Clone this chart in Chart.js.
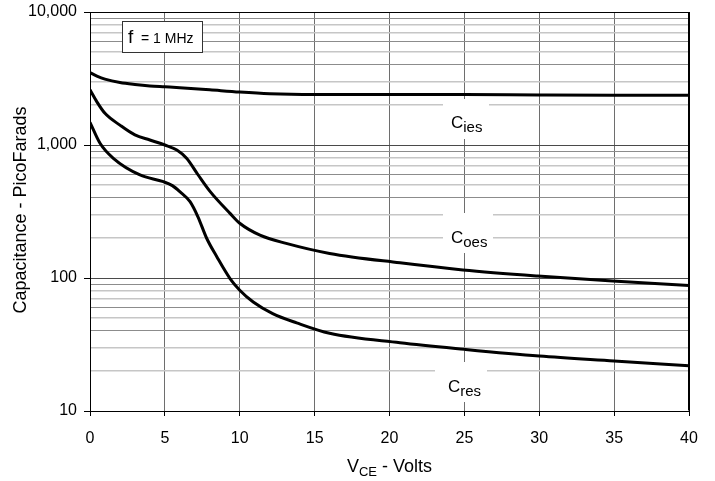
<!DOCTYPE html>
<html>
<head>
<meta charset="utf-8">
<script src="https://cdn.jsdelivr.net/npm/chart.js@4.4.0/dist/chart.umd.min.js"></script>
<style>
html,body{margin:0;padding:0;background:#fff;}
#wrap{width:715px;height:481px;}
</style>
</head>
<body>
<div id="wrap"><canvas id="c" width="715" height="481"></canvas></div>
<script>
// ---- data ----
const vIes = [0, 0.5, 1, 2, 3, 4, 5, 6, 8, 10, 12, 15, 20, 25, 30, 35, 40];
const cIes = [3500, 3280, 3130, 2950, 2850, 2780, 2740, 2700, 2600, 2500, 2430, 2400, 2400, 2400, 2380, 2370, 2370];

const vOes = [0, 0.45, 1, 2, 3, 4, 5, 5.8, 6.45, 7.2, 8, 9.35, 10, 11.35, 13.1, 16, 20.7, 24.9, 29.9, 34.9, 40];
const cOes = [2600, 2120, 1730, 1410, 1190, 1090, 1000, 916, 794, 600, 450, 306, 258, 210, 182, 153, 130, 115, 103.5, 95, 88];

const vRes = [0, 0.67, 1.56, 3.34, 4.9, 5.5, 6, 6.68, 7.2, 7.79, 8.46, 9.35, 10, 10.9, 12.2, 13.8, 16, 20.7, 25, 30, 35, 40];
const cRes = [1480, 1030, 794, 595, 530, 495, 446, 375, 290, 199, 145, 99, 81, 66, 54, 46, 38.4, 32.6, 29.1, 25.9, 23.8, 21.9];

const xTicks = [0, 5, 10, 15, 20, 25, 30, 35, 40];
const yMajor = [10, 100, 1000, 10000];
const yLabels = ['10', '100', '1,000', '10,000'];
const seriesNames = ['ies', 'oes', 'res'];

const yTicks = [];
[10, 100, 1000].forEach(d => { for (let m = 1; m <= 9; m++) yTicks.push(d * m); });
yTicks.push(10000);

const FONT = '"Liberation Sans", Arial, Helvetica, sans-serif';

function pts(xs, ys) { return xs.map((x, i) => ({x: x, y: ys[i]})); }
function mant(v) { return Math.round(v / Math.pow(10, Math.floor(Math.log10(v) + 1e-9))); }

const ds = (d) => ({
  data: d, borderColor: '#000', borderWidth: 3, pointRadius: 0, showLine: true,
  fill: false, cubicInterpolationMode: 'monotone', tension: 0.4
});

const deco = {
  id: 'deco',
  beforeDatasetsDraw(chart) {
    const ctx = chart.ctx;
    ctx.save();
    const boxes = [
      {x: 443, y: 99, w: 46, h: 40, tx: 451, ty: 128, sub: seriesNames[0]},
      {x: 443, y: 213, w: 50, h: 40, tx: 451, ty: 243, sub: seriesNames[1]},
      {x: 435, y: 362, w: 52, h: 40, tx: 448, ty: 392, sub: seriesNames[2]}
    ];
    boxes.forEach(b => {
      ctx.fillStyle = '#fff';
      ctx.fillRect(b.x, b.y, b.w, b.h);
      ctx.fillStyle = '#000';
      ctx.textBaseline = 'alphabetic';
      ctx.textAlign = 'left';
      ctx.font = '17px ' + FONT;
      ctx.fillText('C', b.tx, b.ty);
      const cw = ctx.measureText('C').width;
      ctx.font = '15px ' + FONT;
      ctx.fillText(b.sub, b.tx + cw, b.ty + 4);
    });
    ctx.fillStyle = '#fff';
    ctx.fillRect(122.5, 21.5, 80, 31);
    ctx.strokeStyle = '#333';
    ctx.lineWidth = 1;
    ctx.strokeRect(122.5, 21.5, 80, 31);
    ctx.fillStyle = '#000';
    ctx.font = '19px ' + FONT;
    ctx.fillText('f', 128, 43);
    ctx.font = '14px ' + FONT;
    ctx.fillText('= 1 MHz', 141, 43);
    ctx.restore();
  },
  afterDraw(chart) {
    const ctx = chart.ctx;
    const a = chart.chartArea;
    ctx.save();
    ctx.strokeStyle = '#000';
    ctx.lineWidth = 1;
    ctx.beginPath();
    ctx.moveTo(Math.round(a.left) + 0.5, Math.round(a.top) + 0.5);
    ctx.lineTo(Math.round(a.right) - 0.5, Math.round(a.top) + 0.5);
    ctx.lineTo(Math.round(a.right) - 0.5, Math.round(a.bottom) - 0.5);
    ctx.stroke();
    ctx.fillStyle = '#000';
    ctx.font = '18px ' + FONT;
    ctx.textAlign = 'center';
    ctx.textBaseline = 'middle';
    ctx.translate(21, 210);
    ctx.rotate(-Math.PI / 2);
    ctx.fillText('Capacitance - PicoFarads', 0, 0);
    ctx.setTransform(1, 0, 0, 1, 0, 0);
    ctx.textAlign = 'left';
    ctx.textBaseline = 'alphabetic';
    ctx.font = '18px ' + FONT;
    const w1 = ctx.measureText('V').width;
    const w3 = ctx.measureText(' - Volts').width;
    ctx.font = '13px ' + FONT;
    const w2 = ctx.measureText('CE').width;
    const total = w1 + w2 + w3;
    let x0 = (a.left + a.right) / 2 - total / 2;
    ctx.font = '18px ' + FONT;
    ctx.fillText('V', x0, 472);
    ctx.font = '13px ' + FONT;
    ctx.fillText('CE', x0 + w1, 476);
    ctx.font = '18px ' + FONT;
    ctx.fillText(' - Volts', x0 + w1 + w2, 472);
    ctx.restore();
  }
};

new Chart(document.getElementById('c'), {
  type: 'scatter',
  data: { datasets: [ds(pts(vIes, cIes)), ds(pts(vOes, cOes)), ds(pts(vRes, cRes))] },
  options: {
    responsive: false,
    animation: false,
    devicePixelRatio: 1,
    layout: { padding: { left: 0, top: 12, right: 26, bottom: 0 } },
    plugins: { legend: { display: false }, tooltip: { enabled: false } },
    scales: {
      x: {
        type: 'linear', min: 0, max: 40,
        afterFit(s) { s.height = 70; s.paddingLeft = 0; s.paddingRight = 0; },
        afterBuildTicks(s) { s.ticks = xTicks.map(v => ({value: v})); },
        ticks: { color: '#000', font: { size: 16, family: FONT }, padding: 13, maxRotation: 0, autoSkip: false },
        grid: {
          color: (c) => (c.tick && (c.tick.value === 0 || c.tick.value === 40)) ? '#000' : '#6e6e6e',
          lineWidth: 1, tickLength: 5, tickColor: '#000'
        },
        border: { color: '#000', width: 1 }
      },
      y: {
        type: 'logarithmic', min: 10, max: 10000,
        afterFit(s) { s.width = 90; s.paddingTop = 0; s.paddingBottom = 0; },
        afterBuildTicks(s) { s.ticks = yTicks.map(v => ({value: v})); },
        ticks: {
          color: '#000', font: { size: 16, family: FONT }, padding: 7, autoSkip: false,
          callback: (v) => { const i = yMajor.indexOf(v); return i >= 0 ? yLabels[i] : ''; }
        },
        grid: {
          color: (c) => {
            const v = c.tick ? c.tick.value : 10;
            if (v === 10000) return '#000';
            const m = mant(v);
            if (m === 1) return '#4a4a4a';
            if (m === 9 || m === 6 || m === 4) return '#8c8c8c';
            return '#c6c6c6';
          },
          lineWidth: (c) => { const v = c.tick ? c.tick.value : 10; const m = mant(v); return (m === 1 || m === 9 || m === 6 || m === 4) ? 1 : 1.5; },
          tickLength: 6,
          tickColor: (c) => { const v = c.tick ? c.tick.value : 10; return mant(v) === 1 ? '#000' : 'rgba(0,0,0,0)'; }
        },
        border: { color: '#000', width: 1 }
      }
    }
  },
  plugins: [deco]
});
</script>
</body>
</html>
